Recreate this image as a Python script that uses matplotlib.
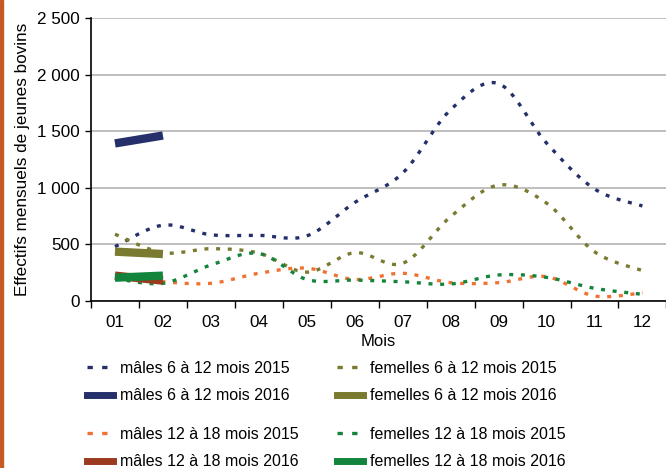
import numpy as np
import matplotlib.pyplot as plt
from matplotlib.lines import Line2D
from matplotlib.patches import Rectangle

plt.rcParams['font.family'] = ['Liberation Sans', 'DejaVu Sans']

mois = ['01', '02', '03', '04', '05', '06', '07', '08', '09', '10', '11', '12']

males_6_12_2015 = [480, 670, 585, 580, 575, 870, 1130, 1690, 1920, 1395, 990, 840]
femelles_6_12_2015 = [590, 427, 462, 423, 255, 427, 333, 745, 1024, 865, 435, 268]
males_12_18_2015 = [210, 170, 156, 245, 290, 190, 245, 162, 162, 215, 44, 73]
femelles_12_18_2015 = [200, 156, 318, 420, 190, 185, 170, 150, 230, 209, 112, 59]

males_6_12_2016 = [1392, 1462]
femelles_6_12_2016 = [436, 415]
males_12_18_2016 = [224, 180]
femelles_12_18_2016 = [206, 224]

c_navy = '#25306b'
c_olive = '#7a7a30'
c_orange = '#f07232'
c_brown = '#9b3a1e'
c_green = '#13843c'


def lissage(y, n=30):
    # courbe lissée type Excel (Bézier / Catmull-Rom)
    y = np.asarray(y, dtype=float)
    x = np.arange(1, len(y) + 1, dtype=float)
    px = np.concatenate([[x[0]], x, [x[-1]]])
    py = np.concatenate([[y[0]], y, [y[-1]]])
    xs, ys = [], []
    t = np.linspace(0, 1, n)
    for i in range(1, len(px) - 2):
        p0 = np.array([px[i], py[i]])
        p3 = np.array([px[i + 1], py[i + 1]])
        p1 = p0 + (np.array([px[i + 1], py[i + 1]]) - np.array([px[i - 1], py[i - 1]])) / 6
        p2 = p3 - (np.array([px[i + 2], py[i + 2]]) - np.array([px[i], py[i]])) / 6
        b = ((1 - t) ** 3)[:, None] * p0 + (3 * (1 - t) ** 2 * t)[:, None] * p1 \
            + (3 * (1 - t) * t ** 2)[:, None] * p2 + (t ** 3)[:, None] * p3
        xs.extend(b[:, 0])
        ys.extend(b[:, 1])
    return np.array(xs), np.array(ys)


fig = plt.figure(figsize=(6.66, 4.68), dpi=100)
fig.patches.append(Rectangle((0, 0), 3 / 666, 1, transform=fig.transFigure,
                             color='#c55a25', zorder=0))
ax = fig.add_axes([91 / 666, 1 - 301 / 468, 575.4 / 666, 283 / 468])

dot = (0, (1.2, 2.3))
lw_dot = 2.4
for data, col in [(males_6_12_2015, c_navy), (femelles_6_12_2015, c_olive),
                  (males_12_18_2015, c_orange), (femelles_12_18_2015, c_green)]:
    xs, ys = lissage(data)
    ax.plot(xs, ys, color=col, lw=lw_dot, linestyle=dot, zorder=3)

x16 = np.arange(1, 3)
for data, col in [(males_6_12_2016, c_navy), (femelles_6_12_2016, c_olive),
                  (males_12_18_2016, c_brown), (femelles_12_18_2016, c_green)]:
    ax.plot(x16, data, color=col, lw=6, solid_capstyle='butt', zorder=4)

ax.set_xlim(0.5, 12.5)
ax.set_ylim(0, 2500)
ax.set_yticks(np.arange(0, 2501, 500))
ax.set_yticklabels(['0', '500', '1 000', '1 500', '2 000', '2 500'])
ax.set_xticks(np.arange(1, 13))
ax.set_xticklabels(mois)
ax.set_xticks(np.arange(0.5, 12.6, 1), minor=True)
ax.tick_params(axis='x', which='major', length=0, pad=10, labelsize=12.3)
ax.tick_params(axis='x', which='minor', length=5, width=1, direction='out')
ax.tick_params(axis='y', length=4, width=1, labelsize=12.3, pad=4)
ax.grid(axis='y', color='#b4b4b4', lw=1.2)
ax.set_axisbelow(True)
for s in ['top', 'right']:
    ax.spines[s].set_visible(False)
for s in ['left', 'bottom']:
    ax.spines[s].set_linewidth(1.2)
ax.set_xlabel('Mois', fontsize=12, labelpad=3)
ax.set_ylabel('Effectifs mensuels de jeunes bovins', fontsize=12.3, labelpad=5)

leg_dot = (0, (1.6, 2.8))
groupes = [
    ([Line2D([], [], color=c_navy, lw=2.4, linestyle=leg_dot),
      Line2D([], [], color=c_navy, lw=5)],
     ['mâles 6 à 12 mois 2015', 'mâles 6 à 12 mois 2016'], 87, 361),
    ([Line2D([], [], color=c_olive, lw=2.4, linestyle=leg_dot),
      Line2D([], [], color=c_olive, lw=5)],
     ['femelles 6 à 12 mois 2015', 'femelles 6 à 12 mois 2016'], 337, 361),
    ([Line2D([], [], color=c_orange, lw=2.4, linestyle=leg_dot),
      Line2D([], [], color=c_brown, lw=5)],
     ['mâles 12 à 18 mois 2015', 'mâles 12 à 18 mois 2016'], 87, 427),
    ([Line2D([], [], color=c_green, lw=2.4, linestyle=leg_dot),
      Line2D([], [], color=c_green, lw=5)],
     ['femelles 12 à 18 mois 2015', 'femelles 12 à 18 mois 2016'], 337, 427),
]
for handles, labels, x0, y0 in groupes:
    leg = fig.legend(handles, labels, loc='upper left',
                     bbox_to_anchor=(x0 / 666, 1 - y0 / 468),
                     frameon=False, fontsize=11.5, borderpad=0, borderaxespad=0,
                     handlelength=1.6, handletextpad=0.45, labelspacing=0.78)

fig.savefig('out.png', dpi=100)
